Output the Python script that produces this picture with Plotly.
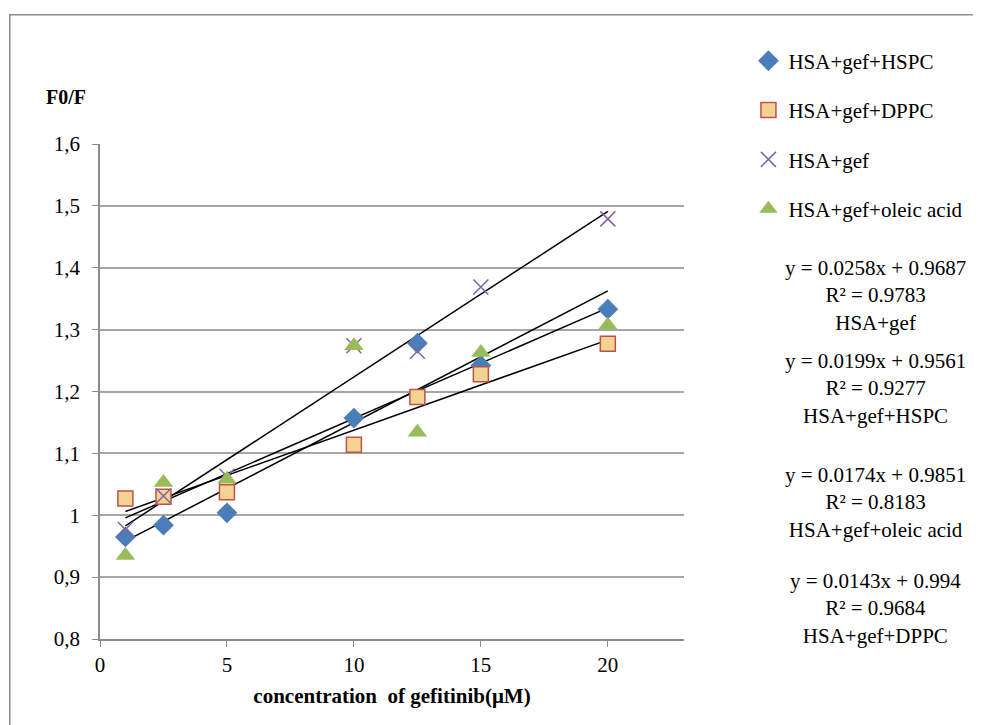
import numpy as np
import plotly.graph_objects as go

# ---- data ----
conc = [1, 2.5, 5, 10, 12.5, 15, 20]
series_names = ["HSA+gef+HSPC", "HSA+gef+DPPC", "HSA+gef", "HSA+gef+oleic acid"]
hspc = [0.965, 0.984, 1.004, 1.157, 1.278, 1.242, 1.333]
dppc = [1.027, 1.030, 1.037, 1.114, 1.191, 1.228, 1.277]
gef = [0.977, 1.031, 1.063, 1.274, 1.265, 1.369, 1.479]
oleic = [0.935, 1.053, 1.058, 1.274, 1.134, 1.263, 1.307]

y_tickvals = [0.8, 0.9, 1.0, 1.1, 1.2, 1.3, 1.4, 1.5, 1.6]
y_ticktext = ["0,8", "0,9", "1", "1,1", "1,2", "1,3", "1,4", "1,5", "1,6"]
x_tickvals = [0, 5, 10, 15, 20]

fit_texts = [
    "y = 0.0258x + 0.9687<br>R² = 0.9783<br>HSA+gef",
    "y = 0.0199x + 0.9561<br>R² = 0.9277<br>HSA+gef+HSPC",
    "y = 0.0174x + 0.9851<br>R² = 0.8183<br>HSA+gef+oleic acid",
    "y = 0.0143x + 0.994<br>R² = 0.9684<br>HSA+gef+DPPC",
]

FONT = "Liberation Serif, Times New Roman, serif"

fig = go.Figure()

# trendlines (least squares from data), drawn first
for ys in [hspc, dppc, gef, oleic]:
    k, b = np.polyfit(conc, ys, 1)
    xs = [conc[0], conc[-1]]
    fig.add_trace(go.Scatter(x=xs, y=[k * v + b for v in xs], mode="lines",
                             line=dict(color="black", width=1.5),
                             showlegend=False, hoverinfo="skip"))

styles = [
    dict(symbol="diamond", size=16, color="#4A7EBB", line=dict(width=0)),
    dict(symbol="square", size=15, color="#F2D392", line=dict(color="#C0504D", width=1.5)),
    dict(symbol="x-thin", size=15, color="#8064A2", line=dict(color="#8064A2", width=1.5)),
    dict(symbol="triangle-up", size=17, color="#9BBB59", line=dict(width=0)),
]
for i, (name, ys) in enumerate(zip(series_names, [hspc, dppc, gef, oleic])):
    fig.add_trace(go.Scatter(x=conc, y=ys, mode="markers", name=name,
                             marker=styles[i], legendgroup=f"g{i}"))

W, H = 973, 717
L, T = 92, 135.5
PR, PB = 681, 631
R, B = W - PR, H - PB
pw, ph = PR - L, PB - T


def px_x(px):
    return (px - L) / pw


def px_y(py):
    return 1 - (py - T) / ph


annotations = []
for txt, cy in zip(fit_texts, [287, 380, 494, 600]):
    annotations.append(dict(text=txt, x=px_x(874), y=px_y(cy), xref="paper", yref="paper",
                            xanchor="center", yanchor="middle", showarrow=False,
                            align="center", font=dict(family=FONT, size=21, color="black")))
annotations.append(dict(text="<b>F0/F</b>", x=px_x(58), y=px_y(88), xref="paper", yref="paper",
                        xanchor="center", yanchor="middle", showarrow=False,
                        font=dict(family=FONT, size=20, color="black")))

fig.update_layout(
    width=W, height=H,
    margin=dict(l=L, r=R, t=T, b=B),
    paper_bgcolor="white", plot_bgcolor="white",
    font=dict(family=FONT, size=21, color="black"),
    showlegend=True,
    legend=dict(x=px_x(746), y=px_y(32), xanchor="left", yanchor="top",
                font=dict(family=FONT, size=21, color="black"),
                tracegroupgap=19, bgcolor="rgba(0,0,0,0)", borderwidth=0),
    annotations=annotations,
    shapes=[dict(type="rect", xref="paper", yref="paper",
                 x0=px_x(1), y0=px_y(800), x1=px_x(1100), y1=px_y(6),
                 line=dict(color="#8C8C8C", width=1.5), fillcolor="rgba(0,0,0,0)",
                 layer="below")],
    xaxis=dict(range=[0, 23], tickvals=x_tickvals, ticks="outside", ticklen=6,
               tickcolor="#8C8C8C", showline=True, linecolor="#8C8C8C", linewidth=1.5,
               showgrid=False, zeroline=False,
               title=dict(text="<b>concentration  of gefitinib(μM)</b>", standoff=12,
                          font=dict(family=FONT, size=21)),
               tickfont=dict(family=FONT, size=21)),
    yaxis=dict(range=[0.8, 1.6], tickvals=y_tickvals, ticktext=y_ticktext,
               ticks="outside", ticklen=6, tickcolor="#8C8C8C",
               showline=True, linecolor="#8C8C8C", linewidth=1.5,
               showgrid=True, gridcolor="#A6A6A6", gridwidth=1.5, zeroline=False,
               ticklabelstandoff=8,
               tickfont=dict(family=FONT, size=21)),
)

fig.write_html("out.html")
